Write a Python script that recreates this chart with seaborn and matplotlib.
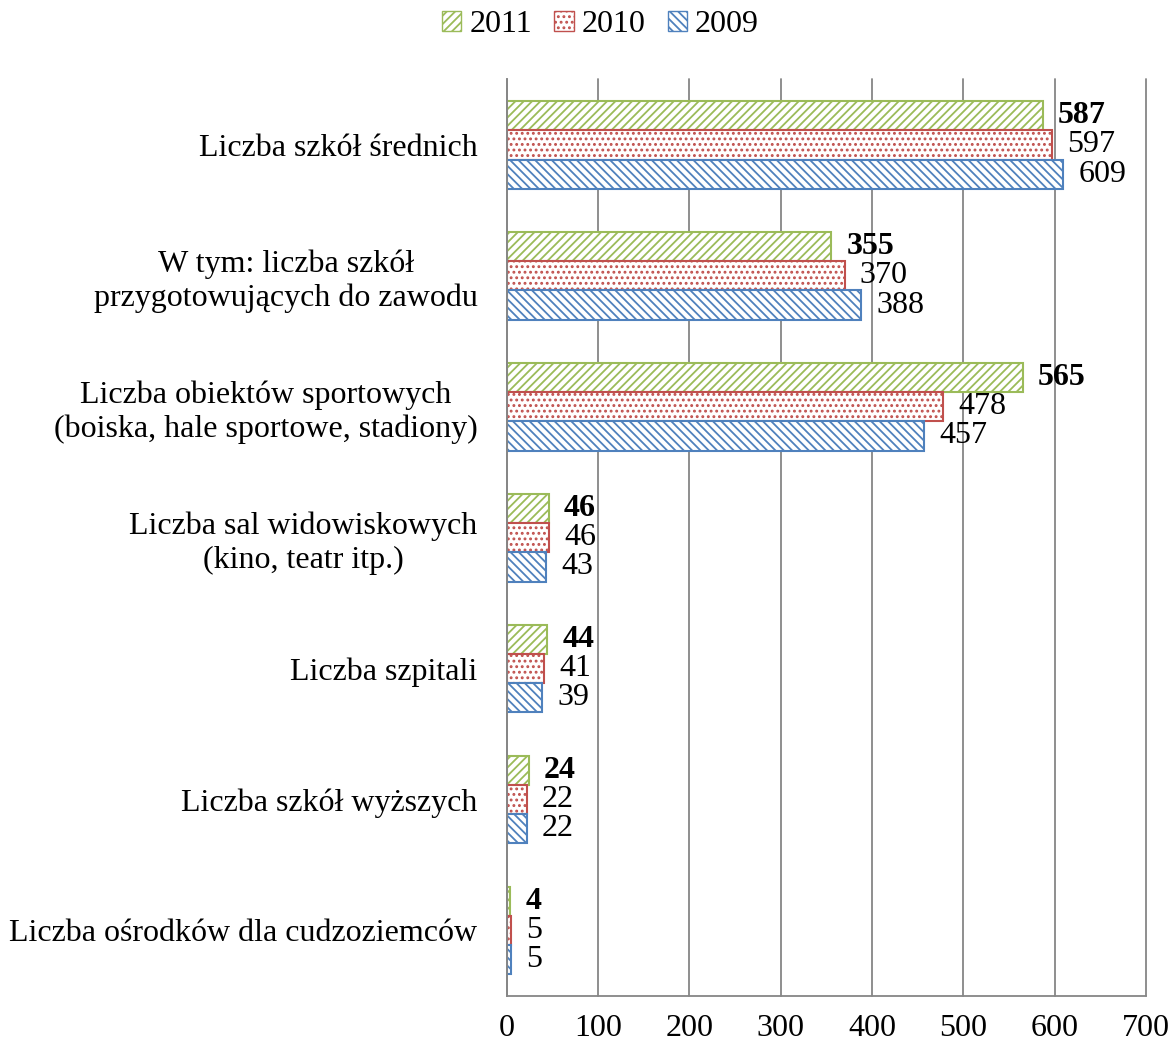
import numpy as np
import pandas as pd
import matplotlib
matplotlib.use("Agg")
import matplotlib.pyplot as plt
from matplotlib.ticker import FixedLocator
import seaborn as sns

# ── Data ─────────────────────────────────────────────────
CATEGORIES = [
    "Liczba szkół średnich",
    "W tym: liczba szkół\nprzygotowujących do zawodu",
    "Liczba obiektów sportowych\n(boiska, hale sportowe, stadiony)",
    "Liczba sal widowiskowych\n(kino, teatr itp.)",
    "Liczba szpitali",
    "Liczba szkół wyższych",
    "Liczba ośrodków dla cudzoziemców",
]
YEARS = ["2011", "2010", "2009"]
V2011 = [587, 355, 565, 46, 44, 24, 4]
V2010 = [597, 370, 478, 46, 41, 22, 5]
V2009 = [609, 388, 457, 43, 39, 22, 5]

COLORS = {"2011": "#9BBB59", "2010": "#C0504D", "2009": "#4F81BD"}
HATCHES = {"2011": "////", "2010": "...", "2009": "\\\\\\\\"}
GRID = "#868686"
FS = 23

df = pd.DataFrame({
    "Kategoria": CATEGORIES * 3,
    "Rok": [y for y in YEARS for _ in CATEGORIES],
    "Wartość": V2011 + V2010 + V2009,
})

# ── Style ────────────────────────────────────────────────
sns.set_style("white")
plt.rcParams.update({
    "font.family": ["Liberation Serif", "DejaVu Serif"],
    "hatch.linewidth": 1.3,
    "font.size": FS,
    "text.color": "black",
    "xtick.labelcolor": "black",
    "ytick.labelcolor": "black",
})

fig = plt.figure(figsize=(11.73, 10.45), dpi=100)
ax = fig.add_axes([0.432, 0.047, 0.545, 0.877])

sns.barplot(data=df, y="Kategoria", x="Wartość", hue="Rok", hue_order=YEARS,
            order=CATEGORIES, orient="h", width=0.67, gap=0,
            palette=COLORS, ax=ax, legend=True)

for cont, yr in zip(ax.containers, YEARS):
    for bar in cont:
        bar.set_facecolor("white")
        bar.set_edgecolor(COLORS[yr])
        bar.set_hatch(HATCHES[yr])
        bar.set_linewidth(1.5)
    ax.bar_label(cont, labels=[str(int(b.get_width())) for b in cont],
                 padding=11, fontsize=FS,
                 fontweight="bold" if yr == "2011" else "normal")

# axes, grid, ticks
ax.set_xlim(0, 700)
ax.set_ylim(len(CATEGORIES) - 0.5, -0.5)
ax.set_xticks(np.arange(0, 701, 100))
ax.xaxis.grid(True, color=GRID, linewidth=1.3)
for gl in ax.get_xgridlines():
    gl.set_clip_on(False)
ax.yaxis.grid(False)
ax.set_axisbelow(True)
ax.set_xlabel("")
ax.set_ylabel("")
for s in ["top", "right"]:
    ax.spines[s].set_visible(False)
for s in ["left", "bottom"]:
    ax.spines[s].set_color(GRID)
    ax.spines[s].set_linewidth(1.3)

ax.tick_params(axis="x", direction="out", length=9, width=1.3, color=GRID,
               labelsize=FS, pad=4)
ax.tick_params(axis="y", which="major", length=0, labelsize=FS, pad=21)
ax.yaxis.set_minor_locator(FixedLocator(np.arange(-0.5, len(CATEGORIES), 1.0)))
ax.tick_params(axis="y", which="minor", direction="out", length=9, width=1.3, color=GRID)
for lbl in ax.get_yticklabels():
    lbl.set_multialignment("center")

# legend
handles, labels = ax.get_legend_handles_labels()
for h, yr in zip(handles, labels):
    h.set_facecolor("white")
    h.set_edgecolor(COLORS[yr])
    h.set_hatch(HATCHES[yr])
ax.get_legend().remove()
fig.legend(handles, labels, loc="upper center", bbox_to_anchor=(0.512, 1.018),
           ncol=3, frameon=False, fontsize=FS, handlelength=0.6, handleheight=0.6,
           handletextpad=0.25, columnspacing=0.7)

fig.savefig("out.png", dpi=100)
